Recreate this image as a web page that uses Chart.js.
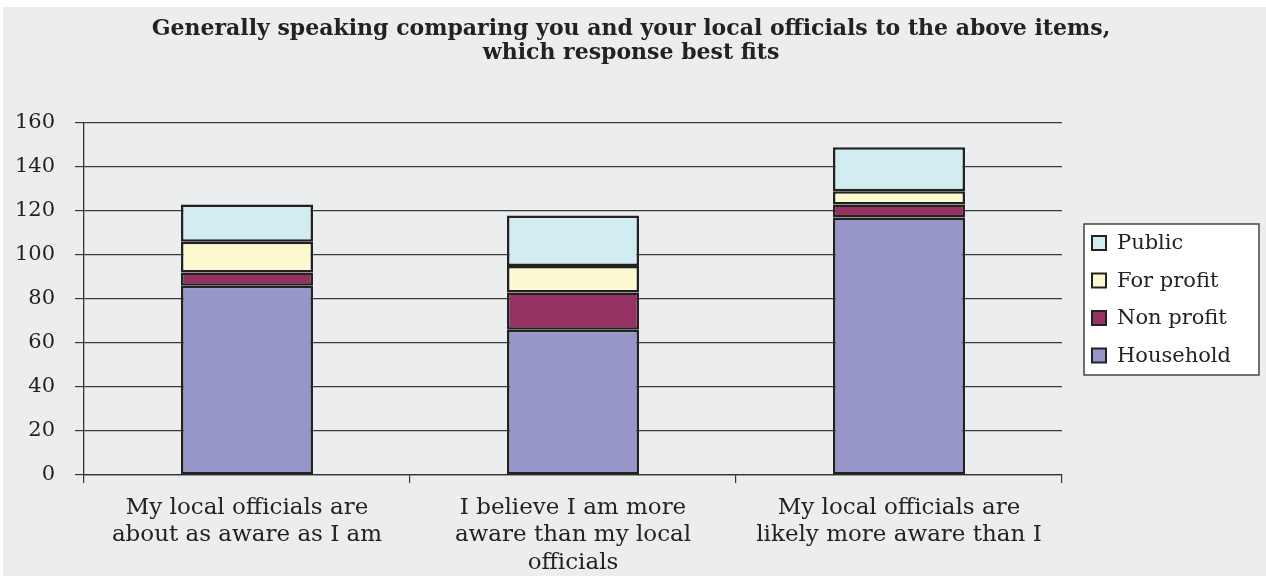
<!DOCTYPE html>
<html>
<head>
<meta charset="utf-8">
<script src="https://cdn.jsdelivr.net/npm/chart.js@4/dist/chart.umd.min.js"></script>
<style>
html,body{margin:0;padding:0;background:#fff;}
#wrap{position:absolute;left:0;top:0;width:1266px;height:576px;}
</style>
</head>
<body>
<div id="wrap"><canvas id="c" width="1266" height="576"></canvas></div>
<script>
const titleLines = ["Generally speaking comparing you and your local officials to the above items,", "which response best fits"];
const categories = [
  ["My local officials are", "about as aware as I am"],
  ["I believe I am more", "aware than my local", "officials"],
  ["My local officials are", "likely more aware than I"]
];
const yTicks = [0, 20, 40, 60, 80, 100, 120, 140, 160];
const household = [86, 66, 117];
const nonProfit = [6, 17, 6];
const forProfit = [14, 12, 6];
const publicSector = [17, 23, 20];
const seriesNames = ["Household", "Non profit", "For profit", "Public"];
const seriesColors = ["#9696c8", "#963262", "#fcf8cf", "#d3ecf1"];

const SERIF = "'DejaVu Serif', 'Liberation Serif', serif";
const TEXT = "#222222";

const bgPlugin = {
  id: 'bg',
  beforeDraw(chart){
    const ctx = chart.ctx;
    ctx.save();
    ctx.fillStyle = '#ffffff';
    ctx.fillRect(0, 0, chart.width, chart.height);
    ctx.fillStyle = '#ecedef';
    ctx.fillRect(3, 7, chart.width - 3, chart.height - 7);
    ctx.restore();
  }
};

const titlePlugin = {
  id: 'customTitle',
  afterDraw(chart){
    const ctx = chart.ctx;
    ctx.save();
    ctx.font = "bold 22px " + SERIF;
    ctx.fillStyle = TEXT;
    ctx.textAlign = 'center';
    ctx.textBaseline = 'middle';
    titleLines.forEach((t, i) => ctx.fillText(t, 631, 29 + i * 24));
    ctx.restore();
  }
};

const legendPlugin = {
  id: 'customLegend',
  afterDraw(chart){
    const ctx = chart.ctx;
    const x = 1084, y = 224, w = 175, h = 151;
    ctx.save();
    ctx.fillStyle = '#ffffff';
    ctx.fillRect(x, y, w, h);
    ctx.strokeStyle = '#444';
    ctx.lineWidth = 1.5;
    ctx.strokeRect(x, y, w, h);
    ctx.font = "21px " + SERIF;
    ctx.textBaseline = 'middle';
    ctx.textAlign = 'left';
    const ds = chart.data.datasets.slice().reverse();
    ds.forEach((d, i) => {
      const cy = y + 19 + i * 37.5;
      ctx.fillStyle = d.backgroundColor;
      ctx.fillRect(x + 8, cy - 7, 14, 14);
      ctx.strokeStyle = '#222';
      ctx.lineWidth = 2;
      ctx.strokeRect(x + 8, cy - 7, 14, 14);
      ctx.fillStyle = TEXT;
      ctx.fillText(d.label, x + 33, cy + 1);
    });
    ctx.restore();
  }
};

const dataArrays = [household, nonProfit, forProfit, publicSector];

new Chart(document.getElementById('c'), {
  type: 'bar',
  data: {
    labels: categories,
    datasets: dataArrays.map((arr, i) => ({
      label: seriesNames[i],
      data: arr,
      backgroundColor: seriesColors[i],
      borderColor: '#222222',
      borderWidth: 2.5,
      borderSkipped: false,
      categoryPercentage: 1,
      barPercentage: 0.405
    }))
  },
  options: {
    responsive: false,
    animation: false,
    devicePixelRatio: 1,
    layout: { padding: { top: 123, right: 204, left: 0, bottom: 0 } },
    plugins: { legend: { display: false }, title: { display: false }, tooltip: { enabled: false } },
    scales: {
      x: {
        stacked: true,
        grid: { drawOnChartArea: false, offset: true, tickLength: 8, color: '#333', lineWidth: 1.2 },
        border: { color: '#333', width: 1.3 },
        ticks: { font: { family: SERIF, size: 23, lineHeight: 1.2 }, color: TEXT, padding: 11, maxRotation: 0, autoSkip: false },
        afterFit(s){ s.height = 101; }
      },
      y: {
        stacked: true,
        min: 0, max: 160,
        afterBuildTicks(s){ s.ticks = yTicks.map(v => ({ value: v })); },
        grid: { color: '#3a3a3a', lineWidth: 1.2, tickLength: 9 },
        border: { color: '#333', width: 1.3 },
        ticks: { font: { family: SERIF, size: 21 }, color: TEXT, padding: 20 },
        afterFit(s){ s.width = 84; }
      }
    }
  },
  plugins: [bgPlugin, titlePlugin, legendPlugin]
});
</script>
</body>
</html>
